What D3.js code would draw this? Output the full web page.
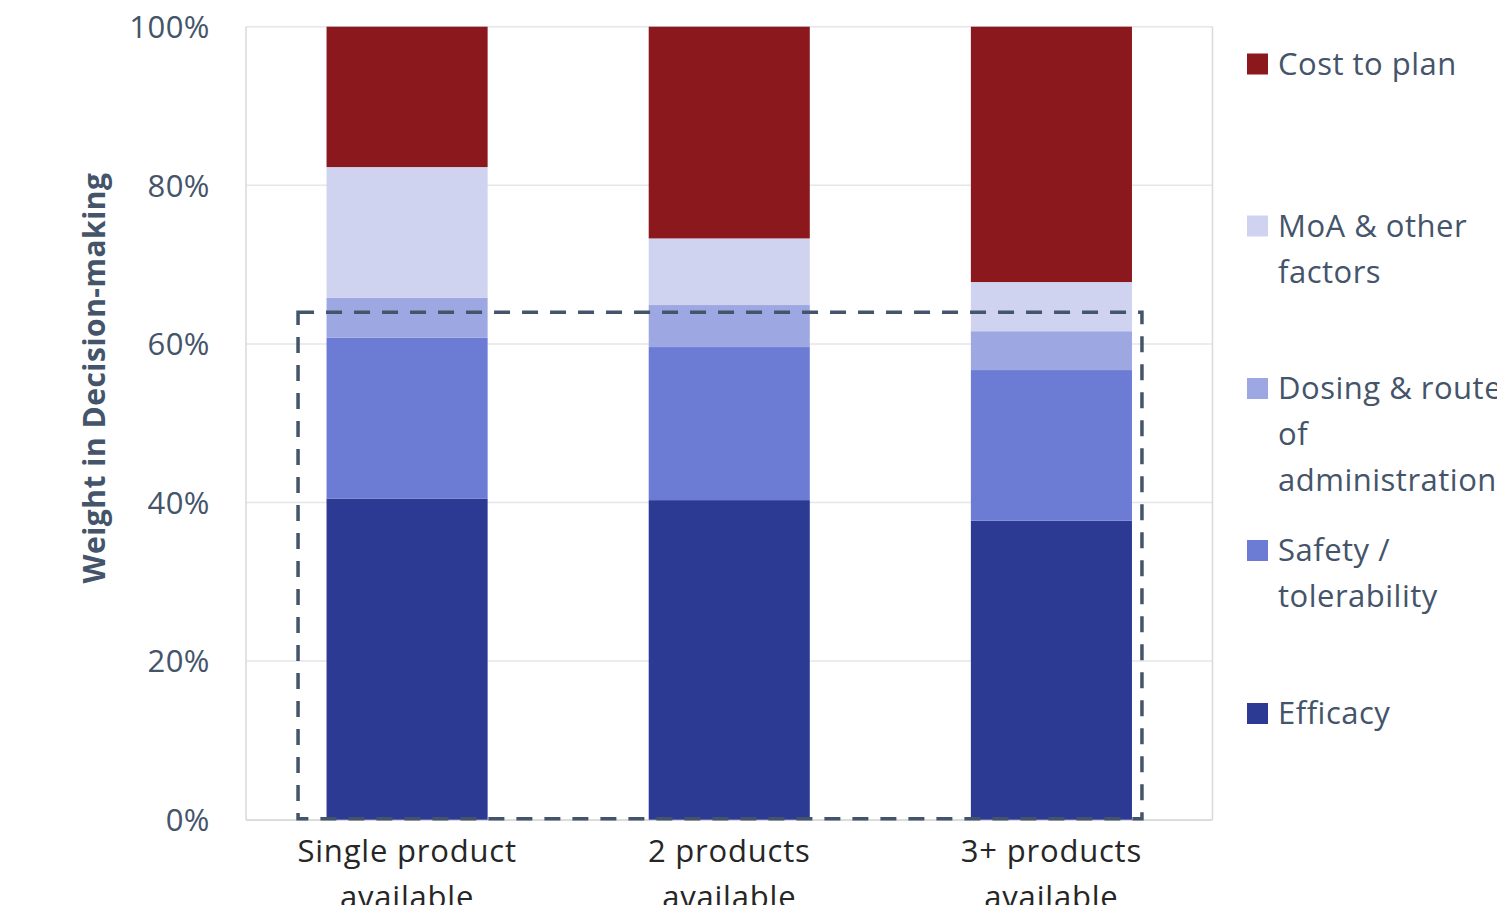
<!DOCTYPE html>
<html>
<head>
<meta charset="utf-8">
<script src="https://cdn.jsdelivr.net/npm/d3@7"></script>
<style>
  html, body { margin: 0; padding: 0; background: #fff; overflow: hidden; }
  svg { display: block; font-family: "Open Sans", sans-serif; }
</style>
</head>
<body>
<svg id="chart" width="1497" height="905"></svg>
<script>
// ---- Data ----
const categories = [["Single product", "available"], ["2 products", "available"], ["3+ products", "available"]];
const categoryKeys = ["single", "two", "three"];
const seriesNames = ["Efficacy", "Safety / tolerability", "Dosing & route of administration", "MoA & other factors", "Cost to plan"];
const efficacy = [40.5, 40.3, 37.7];
const safety = [20.3, 19.3, 19.0];
const dosing = [5.0, 5.3, 4.9];
const moa = [16.5, 8.4, 6.2];
const cost = [17.7, 26.7, 32.2];
const yTicks = [0, 20, 40, 60, 80, 100];
const highlightTop = 64; // dashed box top (%)
const colors = ["#2C3A93", "#6C7BD3", "#9DA7E2", "#CFD3F0", "#8B181C"];
const legendLines = [
  ["Cost to plan"],
  ["MoA & other", "factors"],
  ["Dosing & route", "of", "administration"],
  ["Safety /", "tolerability"],
  ["Efficacy"]
];
const legendColors = ["#8B181C", "#CFD3F0", "#9DA7E2", "#6C7BD3", "#2C3A93"];

(function () {
// ---- Build table ----
const seriesValues = [efficacy, safety, dosing, moa, cost];
const table = categoryKeys.map((k, i) => {
  const row = { key: k, idx: i };
  seriesNames.forEach((s, j) => row[s] = seriesValues[j][i]);
  return row;
});
const stacked = d3.stack().keys(seriesNames)(table);

// ---- Layout ----
const svg = d3.select("#chart");
const pLeft = 246, pRight = 1212.5, pTop = 26.7, pBottom = 819.7;
const x = d3.scaleBand().domain(categoryKeys).range([pLeft, pRight]).paddingInner(0.5).paddingOuter(0.25);
const y = d3.scaleLinear().domain([0, 100]).range([pBottom, pTop]);

const textColor = "#44546A";

// gridlines
svg.append("g").selectAll("line").data(yTicks).join("line")
  .attr("x1", pLeft).attr("x2", pRight)
  .attr("y1", d => y(d)).attr("y2", d => y(d))
  .attr("stroke", "#E3E6EA").attr("stroke-width", 1.5);

// frame
svg.append("line").attr("x1", pLeft).attr("x2", pLeft).attr("y1", pTop).attr("y2", pBottom).attr("stroke", "#D9D9D9").attr("stroke-width", 1.5);
svg.append("line").attr("x1", pRight).attr("x2", pRight).attr("y1", pTop).attr("y2", pBottom).attr("stroke", "#D9D9D9").attr("stroke-width", 1.5);
svg.append("line").attr("x1", pLeft).attr("x2", pRight).attr("y1", pBottom + 0.5).attr("y2", pBottom + 0.5).attr("stroke", "#D9D9D9").attr("stroke-width", 1.5);

// bars
svg.append("g").selectAll("g").data(stacked).join("g")
  .attr("fill", (d, i) => colors[i])
  .selectAll("rect").data(d => d).join("rect")
  .attr("x", d => x(d.data.key))
  .attr("width", x.bandwidth())
  .attr("y", d => y(d[1]))
  .attr("height", d => y(d[0]) - y(d[1]));

// y axis
const yAxis = d3.axisLeft(y).tickValues(yTicks).tickFormat(d => d + "%").tickSize(0).tickPadding(36);
const yg = svg.append("g").attr("transform", `translate(${pLeft},0)`).call(yAxis);
yg.select(".domain").remove();
yg.selectAll("text").attr("fill", textColor)
  .style("font-size", "31px").style("letter-spacing", "0.5px")
  .style("font-family", "'Open Sans', sans-serif").attr("dy", "0.35em");

// x axis labels
const xg = svg.append("g").attr("transform", `translate(0,${pBottom})`)
  .call(d3.axisBottom(x).tickSize(0).tickFormat(""));
xg.select(".domain").remove();
xg.selectAll(".tick").each(function(d, i) {
  const t = d3.select(this).append("text")
    .attr("fill", "#262626").attr("text-anchor", "middle")
    .style("font-size", "31px").style("letter-spacing", "0.8px")
    .style("font-family", "'Open Sans', sans-serif");
  categories[i].forEach((ln, k) => {
    t.append("tspan").attr("x", 0).attr("y", 42 + k * 46).text(ln);
  });
});

// y title
svg.append("text")
  .attr("transform", "translate(105,378) rotate(-90)")
  .attr("text-anchor", "middle")
  .attr("fill", textColor)
  .style("font-size", "30px").style("font-weight", "bold").style("letter-spacing", "0.5px")
  .text("Weight in Decision-making");

// dashed highlight box
const boxL = x(categoryKeys[0]) - 28.5;
const boxR = x(categoryKeys[2]) + x.bandwidth() + 10;
svg.append("rect")
  .attr("x", boxL).attr("y", y(highlightTop))
  .attr("width", boxR - boxL).attr("height", y(0) - y(highlightTop) - 1)
  .attr("fill", "none").attr("stroke", textColor)
  .attr("stroke-width", 3.5).attr("stroke-dasharray", "16,12");

// legend
const legendTops = [53.5, 215.5, 378, 540, 703];
const lg = svg.append("g");
legendLines.forEach((lines, i) => {
  lg.append("rect").attr("x", 1247).attr("y", legendTops[i]).attr("width", 21).attr("height", 21).attr("fill", legendColors[i]);
  const t = lg.append("text").attr("fill", textColor)
    .style("font-size", "31px").style("letter-spacing", "0.5px");
  lines.forEach((ln, k) => {
    t.append("tspan").attr("x", 1278).attr("y", legendTops[i] + 21 + k * 46).text(ln);
  });
});
})();
</script>
</body>
</html>
